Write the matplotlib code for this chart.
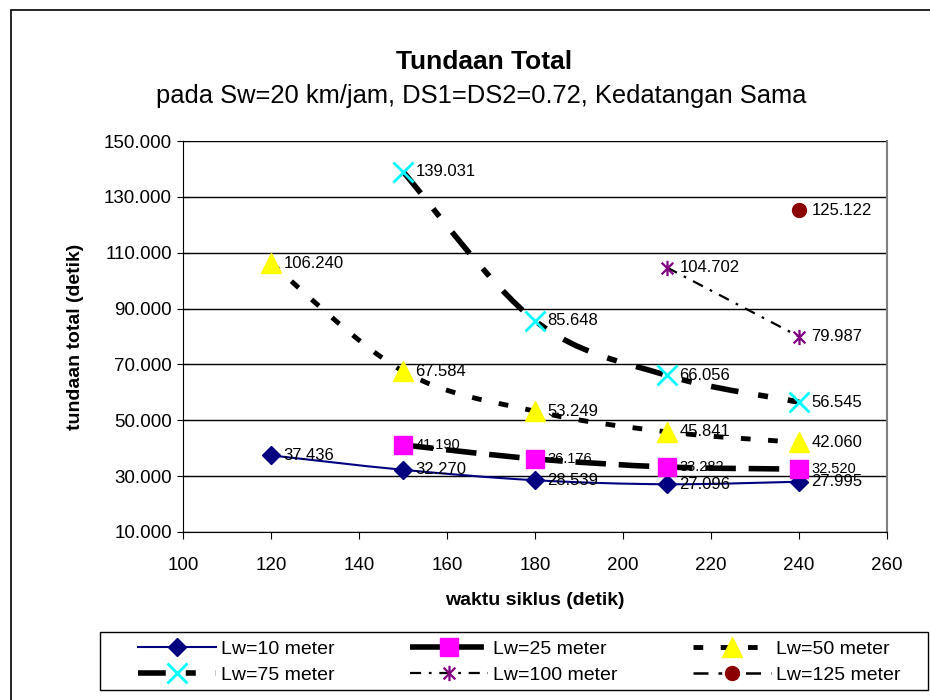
import matplotlib.pyplot as plt
from matplotlib.path import Path
from matplotlib.patches import PathPatch, Rectangle
from matplotlib.lines import Line2D

plt.rcParams['font.family'] = ['Liberation Sans', 'DejaVu Sans']

# data
waktu = [120, 150, 180, 210, 240]
lw10 = [37.436, 32.270, 28.539, 27.096, 27.995]
lw25_x = [150, 180, 210, 240]
lw25 = [41.190, 36.176, 33.282, 32.520]
lw50 = [106.240, 67.584, 53.249, 45.841, 42.060]
lw75_x = [150, 180, 210, 240]
lw75 = [139.031, 85.648, 66.056, 56.545]
lw100_x = [210, 240]
lw100 = [104.702, 79.987]
lw125_x = [240]
lw125 = [125.122]

# excel style asterisk marker
star = Path([(-1, -1), (1, 1), (-1, 1), (1, -1), (0, -1.3), (0, 1.3)],
            [Path.MOVETO, Path.LINETO, Path.MOVETO, Path.LINETO, Path.MOVETO, Path.LINETO])


def smooth_path(x, y):
    # bezier through the points, like excel "smoothed line"
    pts = list(zip(x, y))
    verts = [pts[0]]
    codes = [Path.MOVETO]
    n = len(pts)
    for i in range(n - 1):
        p0 = pts[i - 1] if i > 0 else pts[i]
        p1 = pts[i]
        p2 = pts[i + 1]
        p3 = pts[i + 2] if i + 2 < n else pts[i + 1]
        c1 = (p1[0] + (p2[0] - p0[0]) / 6, p1[1] + (p2[1] - p0[1]) / 6)
        c2 = (p2[0] - (p3[0] - p1[0]) / 6, p2[1] - (p3[1] - p1[1]) / 6)
        verts += [c1, c2, p2]
        codes += [Path.CURVE4] * 3
    return Path(verts, codes)


series = [
    # x, y, label, line color, lw, dashes, marker, mfc, mec, ms, label size
    (waktu, lw10, 'Lw=10 meter', 'navy', 1.5, None, 'D', 'navy', 'navy', 9, 12),
    (lw25_x, lw25, 'Lw=25 meter', 'black', 4, (5.5, 2.3), 's', 'magenta', 'magenta', 13, 10.5),
    (waktu, lw50, 'Lw=50 meter', 'black', 3.5, (2, 3.6), '^', 'yellow', 'yellow', 14, 12),
    (lw75_x, lw75, 'Lw=75 meter', 'black', 4, (5, 3.6, 1.8, 3.6), 'x', 'cyan', 'cyan', 14, 12),
    (lw100_x, lw100, 'Lw=100 meter', 'black', 1.6, (5, 3.5, 1.2, 3.5), star, 'purple', 'purple', 11, 12),
    (lw125_x, lw125, 'Lw=125 meter', 'black', 1.8, (6, 4, 1.5, 4, 1.5, 4), 'o', 'darkred', 'darkred', 10, 12),
]

fig = plt.figure(figsize=(9.3, 7), dpi=100)
ax = fig.add_axes([183 / 930, 1 - 532 / 700, 704 / 930, 391 / 700])

# outer chart border
fig.patches.append(Rectangle((11 / 930, -0.05), 1.0, 1.05 - 10 / 700, transform=fig.transFigure,
                             fill=False, edgecolor='black', lw=1.2))
# legend frame (drawn by hand so the entries can sit freely inside)
fig.patches.append(Rectangle((100 / 930, 1 - 690 / 700), 828 / 930, 58 / 700,
                             transform=fig.transFigure, fill=False, edgecolor='black', lw=1))

handles = []
for x, y, lab, col, lw, dash, mk, mfc, mec, ms, fs in series:
    ls = (0, dash) if dash else '-'
    if len(x) > 1:
        ax.add_patch(PathPatch(smooth_path(x, y), fill=False, edgecolor=col, lw=lw,
                               linestyle=ls, zorder=3, capstyle='butt'))
    mew = 2 if mk == 'x' else (1.6 if mk is star else 1)
    ax.plot(x, y, linestyle='none', marker=mk, markersize=ms, markerfacecolor=mfc,
            markeredgecolor=mec, markeredgewidth=mew, zorder=4)
    for xi, yi in zip(x, y):
        ax.annotate(f'{yi:.3f}', (xi, yi), xytext=(9, 0), textcoords='offset points',
                    ha='left', va='center', fontsize=fs, zorder=5)
    handles.append(Line2D([], [], color=col, lw=lw, linestyle=ls, marker=mk, markersize=ms,
                          markerfacecolor=mfc, markeredgecolor=mec, markeredgewidth=mew,
                          dash_capstyle='butt'))

ax.set_xlim(100, 260)
ax.set_ylim(10, 150)
ax.set_xticks(range(100, 261, 20))
ax.set_yticks(range(10, 151, 20))
ax.set_yticklabels([f'{v:.3f}' for v in range(10, 151, 20)])
ax.tick_params(axis='y', direction='inout', length=8, labelsize=13.5, pad=4)
ax.tick_params(axis='x', direction='out', length=5, labelsize=13.5, pad=13)
ax.grid(axis='y', color='black', lw=1)
ax.set_axisbelow(True)
ax.spines['top'].set_visible(False)
ax.spines['right'].set_color('gray')
ax.spines['right'].set_linewidth(1.5)
ax.spines['left'].set_color('black')
ax.spines['bottom'].set_color('black')

ax.set_xlabel('waktu siklus (detik)', fontsize=14, fontweight='bold', labelpad=13)
ax.set_ylabel('tundaan total (detik)', fontsize=14, fontweight='bold', labelpad=14)

fig.text(0.52, 1 - 62 / 700, 'Tundaan Total', ha='center', va='center',
         fontsize=19, fontweight='bold')
fig.text(0.517, 1 - 96 / 700, 'pada Sw=20 km/jam, DS1=DS2=0.72, Kedatangan Sama',
         ha='center', va='center', fontsize=18.4)

# excel fills the legend row by row, matplotlib column by column
order = [0, 3, 1, 4, 2, 5]
leg = fig.legend([handles[i] for i in order], [series[i][2] for i in order],
                 loc='center', ncol=3, bbox_to_anchor=(519 / 930, 1 - 662 / 700),
                 fontsize=14, frameon=False, handlelength=4.0, handletextpad=0.25,
                 columnspacing=3.9, numpoints=1, borderpad=0, labelspacing=0.45)

fig.savefig('out.png', dpi=100)
